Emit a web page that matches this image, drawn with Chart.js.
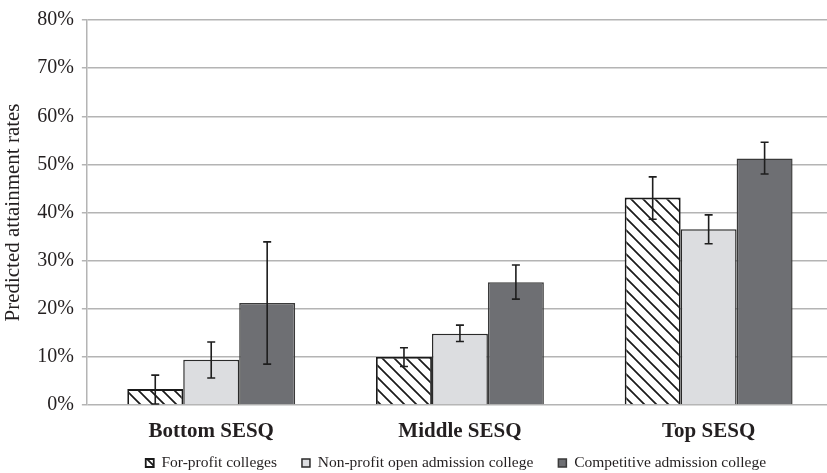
<!DOCTYPE html>
<html>
<head>
<meta charset="utf-8">
<script src="https://cdn.jsdelivr.net/npm/chart.js@4/dist/chart.umd.min.js"></script>
<style>
html,body{margin:0;padding:0;background:#fff;overflow:hidden;width:827px;height:473px;}
#wrap{width:833px;height:473px;position:relative;}
</style>
</head>
<body>
<div id="wrap"><canvas id="c"></canvas></div>
<script>
const categories = ['Bottom SESQ', 'Middle SESQ', 'Top SESQ'];
const seriesNames = ['For-profit colleges', 'Non-profit open admission college', 'Competitive admission college'];
const forProfit = [3.3, 10.0, 43.1];
const forProfitLow = [0.2, 8.0, 38.6];
const forProfitHigh = [6.2, 11.9, 47.4];
const nonProfit = [9.4, 14.8, 36.5];
const nonProfitLow = [5.6, 13.2, 33.5];
const nonProfitHigh = [13.1, 16.6, 39.5];
const competitive = [21.2, 25.5, 51.2];
const competitiveLow = [8.5, 22.0, 48.0];
const competitiveHigh = [33.9, 29.1, 54.6];
const yTicks = [0, 10, 20, 30, 40, 50, 60, 70, 80];
const yTitle = 'Predicted attainment rates';

function hatch() {
  const s = 12;
  const pc = document.createElement('canvas');
  pc.width = s; pc.height = s;
  const g = pc.getContext('2d');
  g.fillStyle = '#fff';
  g.fillRect(0, 0, s, s);
  g.strokeStyle = '#1a1a1a';
  g.lineWidth = 1.7;
  g.beginPath();
  g.moveTo(-2, -2); g.lineTo(s + 2, s + 2);
  g.moveTo(-2 - s, -2); g.lineTo(2, s + 2);
  g.moveTo(s - 2, -2); g.lineTo(2 * s + 2, s + 2);
  g.stroke();
  return g.createPattern(pc, 'repeat');
}
const ctx = document.getElementById('c').getContext('2d');
const pattern = hatch();

const errLow = [forProfitLow, nonProfitLow, competitiveLow];
const errHigh = [forProfitHigh, nonProfitHigh, competitiveHigh];

const errorBars = {
  id: 'errorBars',
  afterDatasetsDraw(chart) {
    const c = chart.ctx;
    const ys = chart.scales.y;
    c.save();
    c.strokeStyle = '#1e1e1e';
    c.lineWidth = 1.6;
    chart.data.datasets.forEach((ds, i) => {
      const meta = chart.getDatasetMeta(i);
      meta.data.forEach((bar, j) => {
        const x = bar.x;
        const y1 = ys.getPixelForValue(errHigh[i][j]);
        const y2 = ys.getPixelForValue(errLow[i][j]);
        c.beginPath();
        c.moveTo(x, y1); c.lineTo(x, y2);
        c.moveTo(x - 4, y1); c.lineTo(x + 4, y1);
        c.moveTo(x - 4, y2); c.lineTo(x + 4, y2);
        c.stroke();
      });
    });
    c.restore();
  }
};

// nudge the legend block so it sits closer under the category labels
const legendNudge = {
  id: 'legendNudge',
  afterLayout(chart) {
    const lg = chart.legend;
    if (!lg) return;
    const dy = -14.75, dx = -4;
    lg.top += dy; lg.bottom += dy;
    lg.left += dx; lg.right += dx;
  }
};

const serif = "'Liberation Serif', 'Times New Roman', serif";
new Chart(ctx, {
  type: 'bar',
  data: {
    labels: categories,
    datasets: [
      { label: seriesNames[0], data: forProfit, backgroundColor: pattern, borderColor: '#1a1a1a', borderWidth: 1.8 },
      { label: seriesNames[1], data: nonProfit, backgroundColor: '#dcdde0', borderColor: '#2a2a2a', borderWidth: 1.5 },
      { label: seriesNames[2], data: competitive, backgroundColor: '#6e6f73', borderColor: '#3a3a3a', borderWidth: 1.5 }
    ]
  },
  options: {
    responsive: true,
    maintainAspectRatio: false,
    animation: false,
    devicePixelRatio: 1,
    layout: { padding: { top: 10, left: 0, right: 0, bottom: -22.5 } },
    datasets: { bar: { barPercentage: 1, categoryPercentage: 0.675 } },
    plugins: {
      tooltip: { enabled: false },
      legend: {
        position: 'bottom',
        fullSize: false,
        labels: {
          font: { family: serif, size: 15.5 },
          color: '#231f20',
          boxWidth: 8,
          boxHeight: 8,
          padding: 25
        }
      }
    },
    scales: {
      x: {
        grid: { display: false, drawTicks: false },
        border: { display: false },
        ticks: { font: { family: serif, size: 21, weight: 'bold' }, color: '#231f20', padding: 14.4 },
        afterFit(scale) { scale.height = 40; }
      },
      y: {
        min: 0, max: 80,
        afterBuildTicks(axis) { axis.ticks = yTicks.map(v => ({ value: v })); },
        ticks: {
          callback: v => v + '%',
          font: { family: serif, size: 20 },
          color: '#231f20',
          padding: 8
        },
        grid: { color: '#b4b4b4', lineWidth: 1.5, tickLength: 5, drawTicks: true },
        border: { color: '#b4b4b4', width: 1.5 },
        title: { display: true, text: yTitle, font: { family: serif, size: 21 }, color: '#231f20', padding: { top: 1, bottom: 3 } }
      }
    }
  },
  plugins: [errorBars, legendNudge]
});
</script>
</body>
</html>
